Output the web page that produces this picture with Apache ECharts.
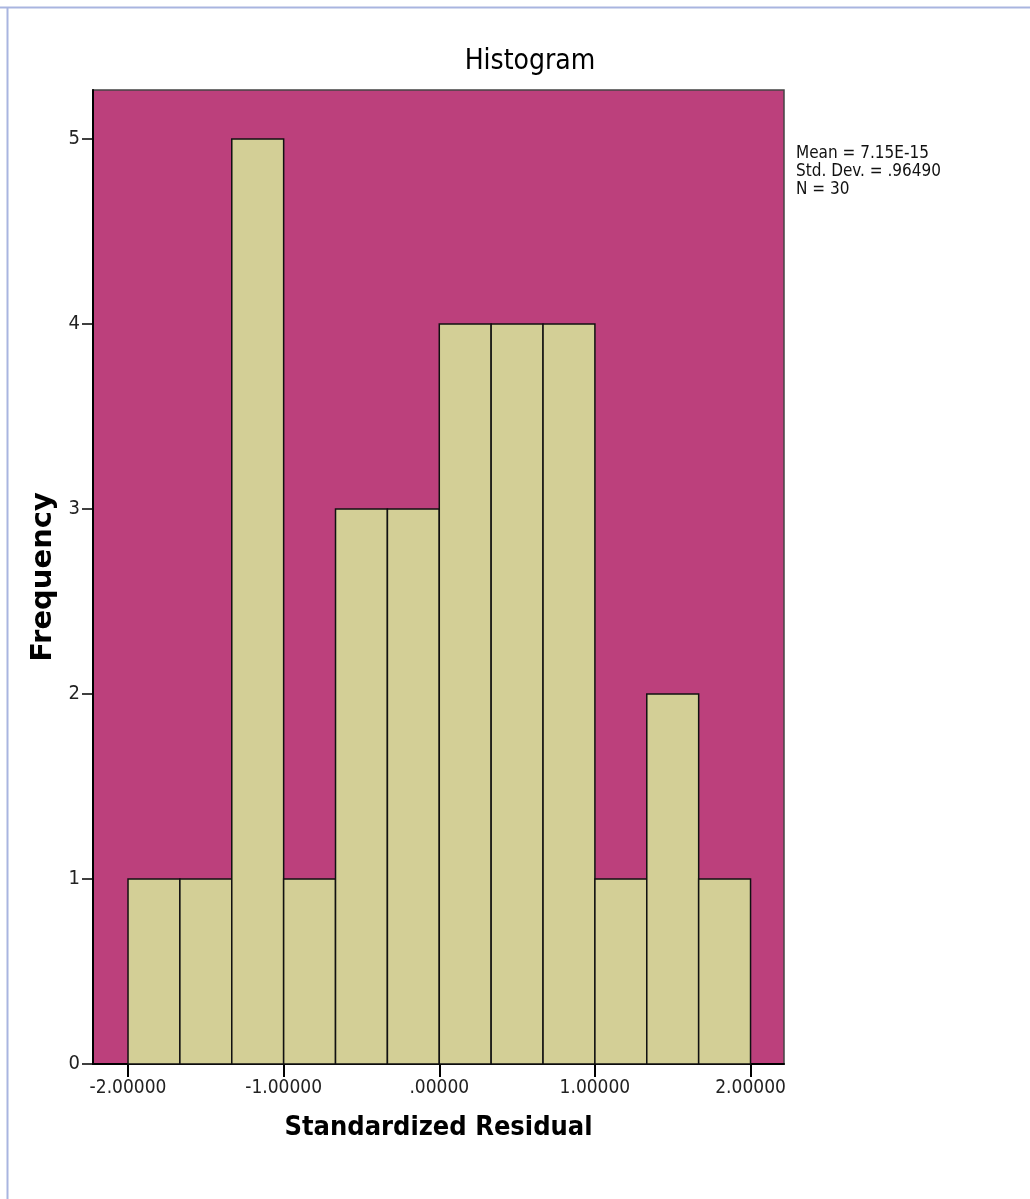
<!DOCTYPE html>
<html>
<head>
<meta charset="utf-8">
<style>
html,body{margin:0;padding:0;background:#fff;}
#chart{width:1030px;height:1199px;}
</style>
<script src="https://cdn.jsdelivr.net/npm/echarts@6/dist/echarts.min.js"></script>
</head>
<body>
<div id="chart"></div>
<script>
// Histogram bins (left edge, right edge) and frequencies
var binStarts = [-2.0, -1.6667, -1.3333, -1.0, -0.6667, -0.3333, 0.0, 0.3333, 0.6667, 1.0, 1.3333, 1.6667];
var binEnds   = [-1.6667, -1.3333, -1.0, -0.6667, -0.3333, 0.0, 0.3333, 0.6667, 1.0, 1.3333, 1.6667, 2.0];
var frequencies = [1, 1, 5, 1, 3, 3, 4, 4, 4, 1, 2, 1];
var xTickValues = [-2, -1, 0, 1, 2];
var xTickLabels = ['-2.00000', '-1.00000', '.00000', '1.00000', '2.00000'];
var yTickValues = [0, 1, 2, 3, 4, 5];
var statsLines = ['Mean = 7.15E-15', 'Std. Dev. = .96490', 'N = 30'];

var NARROW = '"Liberation Sans Narrow", "DejaVu Sans Condensed", "Liberation Sans", Arial, sans-serif';

var data = binStarts.map(function (s, i) { return [s, binEnds[i], frequencies[i]]; });

var chart = echarts.init(document.getElementById('chart'));
chart.setOption({
  backgroundColor: '#ffffff',
  animation: false,
  title: {
    text: 'Histogram',
    left: 525, top: 43,
    textAlign: 'center',
    textStyle: { fontFamily: NARROW, fontSize: 28, fontWeight: 'normal', color: '#000' }
  },
  grid: {
    left: 93, top: 90, right: 246, bottom: 135,
    show: true, backgroundColor: '#bc407c', borderColor: '#444', borderWidth: 1.5
  },
  xAxis: {
    type: 'value', min: -2.225, max: 2.215,
    name: 'Standardized Residual', nameLocation: 'middle', nameGap: 50,
    nameTextStyle: { fontFamily: NARROW, fontSize: 27, fontWeight: 'bold', color: '#000' },
    axisLine: { show: true, onZero: false, lineStyle: { color: '#000', width: 2 } },
    axisTick: { show: true, customValues: xTickValues, length: 13, lineStyle: { color: '#000', width: 2 } },
    axisLabel: {
      customValues: xTickValues, margin: 15,
      fontFamily: NARROW, fontSize: 19, color: '#222',
      formatter: function (v) { return xTickLabels[xTickValues.indexOf(Math.round(v))]; }
    },
    splitLine: { show: false }
  },
  yAxis: {
    type: 'value', min: 0, max: 5.265,
    name: 'Frequency', nameLocation: 'middle', nameGap: 35, nameRotate: 90,
    nameTextStyle: { fontFamily: '"DejaVu Sans", sans-serif', fontSize: 29, fontWeight: 'bold', color: '#000' },
    axisLine: { show: true, onZero: false, lineStyle: { color: '#000', width: 2 } },
    axisTick: { show: true, customValues: yTickValues, length: 11, lineStyle: { color: '#000', width: 1.5 } },
    axisLabel: {
      customValues: yTickValues, margin: 13,
      fontFamily: NARROW, fontSize: 20, color: '#222'
    },
    splitLine: { show: false }
  },
  graphic: [
    { type: 'line', shape: { x1: 0, y1: 7.5, x2: 1030, y2: 7.5 }, style: { stroke: '#a9b5e0', lineWidth: 2 } },
    { type: 'line', shape: { x1: 7.5, y1: 7, x2: 7.5, y2: 1199 }, style: { stroke: '#a9b5e0', lineWidth: 2 } },
    {
      type: 'text', left: 796, top: 145,
      style: { text: statsLines.join('\n'), font: '17px ' + NARROW, lineHeight: 18, fill: '#111' }
    }
  ],
  series: [{
    type: 'custom',
    data: data,
    encode: { x: [0, 1], y: 2 },
    renderItem: function (params, api) {
      var p0 = api.coord([api.value(0), api.value(2)]);
      var p1 = api.coord([api.value(1), 0]);
      return {
        type: 'rect',
        shape: { x: p0[0], y: p0[1], width: p1[0] - p0[0], height: p1[1] - p0[1] },
        style: { fill: '#d3cf96', stroke: '#111', lineWidth: 1.5 }
      };
    }
  }]
});
</script>
</body>
</html>
